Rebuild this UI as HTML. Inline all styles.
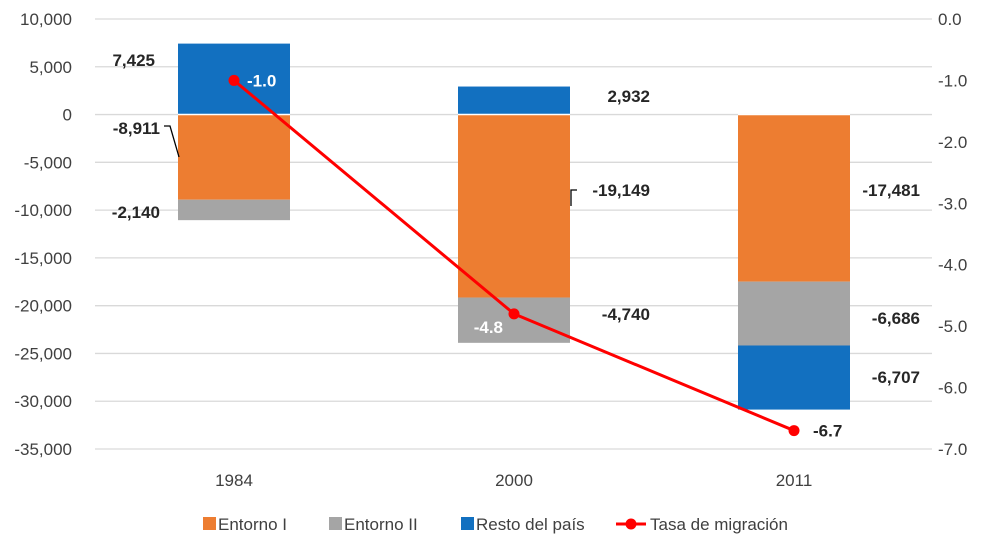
<!DOCTYPE html>
<html><head><meta charset="utf-8">
<style>
body{margin:0;background:#fff;}
svg{display:block;font-family:"Liberation Sans",sans-serif;}
</style></head>
<body>
<svg id="chart" width="1000" height="548" viewBox="0 0 1000 548"></svg>
<script>
const categories=["1984","2000","2011"];
const entorno1=[-8911,-19149,-17481];
const entorno2=[-2140,-4740,-6686];
const resto=[7425,2932,-6707];
const tasa=[-1.0,-4.8,-6.7];
const leftTicks=[10000,5000,0,-5000,-10000,-15000,-20000,-25000,-30000,-35000];
const rightTicks=[0,-1,-2,-3,-4,-5,-6,-7];

const NS="http://www.w3.org/2000/svg";
const svg=document.getElementById("chart");
const TOP=19,BOT=449;
function yL(v){return TOP+(10000-v)*(BOT-TOP)/45000;}
function yR(v){return TOP+(0-v)*(BOT-TOP)/7;}
function xC(i){return 234+i*280;}
const BW=112;
function el(tag,attrs,parent){const e=document.createElementNS(NS,tag);for(const k in attrs)e.setAttribute(k,attrs[k]);(parent||svg).appendChild(e);return e;}
function fmt(v){const s=Math.abs(v).toLocaleString("en-US");return (v<0?"-":"")+s;}

leftTicks.forEach(t=>{
  const g=el("line",{x1:95,x2:932,y1:yL(t),y2:yL(t),stroke:"#D9D9D9","stroke-width":1.3});
  
  
  const tx=el("text",{x:72,y:yL(t)+6,"text-anchor":"end","font-size":17,fill:"#404040"});
  
  
  tx.textContent=t.toLocaleString("en-US");
});
rightTicks.forEach(t=>{
  const tx=el("text",{x:938,y:yR(t)+6,"font-size":17,fill:"#404040"});
  
  
  tx.textContent=t.toFixed(1);
});
categories.forEach((c,i)=>{
  const tx=el("text",{x:xC(i),y:486,"text-anchor":"middle","font-size":17,fill:"#404040"});
  
  
  tx.textContent=c;
});
function bar(i,v0,v1,color,name){
  const y0=yL(v0),y1=yL(v1);
  const r=el("rect",{x:xC(i)-BW/2,y:Math.min(y0,y1),width:BW,height:Math.abs(y1-y0),fill:color});
  
  
}
function label(x,y,t,fill,anchor,name){
  const tx=el("text",{x:x,y:y,"font-size":17,"font-weight":"bold",fill:fill,"text-anchor":anchor||"start"});
  
  
  tx.textContent=t;
}
categories.forEach((c,i)=>{
  const e1=entorno1[i],e2=entorno2[i],r=resto[i];
  bar(i,0,e1,"#ED7D31","bar-entorno1-"+c);
  bar(i,e1,e1+e2,"#A5A5A5","bar-entorno2-"+c);
  if(r>=0) bar(i,0,r,"#1270C0","bar-resto-"+c);
  else bar(i,e1+e2,e1+e2+r,"#1270C0","bar-resto-"+c);
});
categories.forEach((c,i)=>{
  const l=el("line",{x1:xC(i)-BW/2,x2:xC(i)+BW/2,y1:yL(0),y2:yL(0),stroke:"#fff","stroke-width":1.5});
  
  
});
const pts=tasa.map((v,i)=>xC(i)+","+yR(v)).join(" ");
const pl=el("polyline",{points:pts,fill:"none",stroke:"#FF0000","stroke-width":3});


tasa.forEach((v,i)=>{
  const c=el("circle",{cx:xC(i),cy:yR(v),r:5.5,fill:"#FF0000"});
  
  
});
const dk="#262626";
label(155,66,fmt(resto[0]),dk,"end","label-resto-1984");
label(160,134,fmt(entorno1[0]),dk,"end","label-entorno1-1984");
label(160,218,fmt(entorno2[0]),dk,"end","label-entorno2-1984");
el("polyline",{points:"164,126 170,126 179,157",fill:"none",stroke:"#000","stroke-width":1.3});
label(650,102,fmt(resto[1]),dk,"end","label-resto-2000");
label(650,196,fmt(entorno1[1]),dk,"end","label-entorno1-2000");
el("polyline",{points:"577,190 571,190 571,206",fill:"none",stroke:"#000","stroke-width":1.3});
label(650,320,fmt(entorno2[1]),dk,"end","label-entorno2-2000");
label(920,196,fmt(entorno1[2]),dk,"end","label-entorno1-2011");
label(920,324,fmt(entorno2[2]),dk,"end","label-entorno2-2011");
label(920,383,fmt(resto[2]),dk,"end","label-resto-2011");
label(247,yR(tasa[0])+6,tasa[0].toFixed(1),"#fff","start","label-tasa-1984");
label(503,yR(tasa[1])+19,tasa[1].toFixed(1),"#fff","end","label-tasa-2000");
label(813,yR(tasa[2])+6,tasa[2].toFixed(1),dk,"start","label-tasa-2011");
const lg=el("g",{});


const items=[["#ED7D31","Entorno I",203],["#A5A5A5","Entorno II",329],["#1270C0","Resto del país",461]];
items.forEach(([col,t,x])=>{
  const r=el("rect",{x:x,y:517,width:13,height:13,fill:col},lg);
  
  
  const tx=el("text",{x:x+15,y:530,"font-size":17,fill:"#404040"},lg);
  
  
  tx.textContent=t;
});
el("line",{x1:616,x2:646,y1:524,y2:524,stroke:"#FF0000","stroke-width":3},lg);
el("circle",{cx:631,cy:524,r:5.5,fill:"#FF0000"},lg);
const lt=el("text",{x:650,y:530,"font-size":17,fill:"#404040"},lg);


lt.textContent="Tasa de migración";
</script>
</body></html>
